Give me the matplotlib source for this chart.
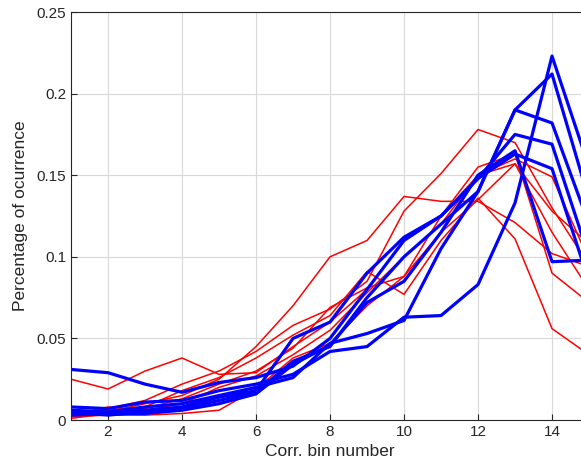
import matplotlib
matplotlib.use("Agg")
import matplotlib.pyplot as plt

plt.rcParams["font.family"] = ["Liberation Sans", "DejaVu Sans"]

bins = list(range(1, 16))

blue_1 = [0.031, 0.029, 0.022, 0.017, 0.023, 0.026, 0.033, 0.050, 0.080, 0.110, 0.125, 0.148, 0.163, 0.154, 0.085]
blue_2 = [0.008, 0.007, 0.011, 0.012, 0.018, 0.022, 0.028, 0.042, 0.045, 0.063, 0.064, 0.083, 0.133, 0.223, 0.155]
blue_3 = [0.006, 0.005, 0.008, 0.010, 0.015, 0.020, 0.026, 0.047, 0.053, 0.061, 0.105, 0.140, 0.190, 0.212, 0.135]
blue_4 = [0.004, 0.004, 0.006, 0.008, 0.014, 0.018, 0.050, 0.060, 0.090, 0.112, 0.125, 0.148, 0.175, 0.169, 0.100]
blue_5 = [0.005, 0.003, 0.005, 0.007, 0.012, 0.017, 0.036, 0.045, 0.075, 0.100, 0.120, 0.140, 0.190, 0.182, 0.120]
blue_6 = [0.003, 0.004, 0.004, 0.006, 0.010, 0.016, 0.034, 0.046, 0.072, 0.085, 0.115, 0.150, 0.165, 0.097, 0.098]

red_1 = [0.025, 0.019, 0.030, 0.038, 0.028, 0.029, 0.045, 0.060, 0.080, 0.110, 0.125, 0.150, 0.160, 0.149, 0.098]
red_2 = [0.002, 0.003, 0.003, 0.004, 0.006, 0.019, 0.038, 0.047, 0.070, 0.088, 0.115, 0.135, 0.157, 0.128, 0.108]
red_3 = [0.003, 0.005, 0.010, 0.015, 0.025, 0.045, 0.070, 0.100, 0.110, 0.137, 0.134, 0.134, 0.121, 0.102, 0.094]
red_4 = [0.002, 0.007, 0.012, 0.022, 0.030, 0.042, 0.058, 0.068, 0.085, 0.128, 0.151, 0.178, 0.170, 0.130, 0.095]
red_5 = [0.004, 0.006, 0.008, 0.018, 0.026, 0.038, 0.052, 0.064, 0.091, 0.077, 0.110, 0.136, 0.111, 0.056, 0.040]
red_6 = [0.001, 0.004, 0.007, 0.013, 0.022, 0.030, 0.044, 0.069, 0.081, 0.088, 0.125, 0.155, 0.163, 0.090, 0.072]
red_7 = [0.003, 0.008, 0.006, 0.010, 0.020, 0.027, 0.040, 0.055, 0.078, 0.100, 0.120, 0.150, 0.157, 0.115, 0.080]

blue_series = [blue_1, blue_2, blue_3, blue_4, blue_5, blue_6]
red_series = [red_1, red_2, red_3, red_4, red_5, red_6, red_7]

fig = plt.figure(figsize=(5.81, 4.73), dpi=100)
ax = fig.add_axes([0.1222, 0.112, 0.8916, 0.8626])

for s in red_series:
    ax.plot(bins, s, color="#ff0000", linewidth=1.1)
for s in blue_series:
    ax.plot(bins, s, color="#0000ff", linewidth=2.3)

ax.set_xlim(1, 15)
ax.set_ylim(0, 0.25)
ax.set_xticks([2, 4, 6, 8, 10, 12, 14])
ax.set_yticks([0, 0.05, 0.1, 0.15, 0.2, 0.25])
ax.set_yticklabels(["0", "0.05", "0.1", "0.15", "0.2", "0.25"])
ax.grid(True, color="#d9d9d9", linewidth=0.8)
ax.set_axisbelow(True)
ax.tick_params(direction="in", colors="#262626", labelsize=11, length=4)
for sp in ax.spines.values():
    sp.set_color("#262626")
ax.set_xlabel("Corr. bin number", fontsize=12.5, color="#262626", labelpad=4)
ax.set_ylabel("Percentage of ocurrence", fontsize=12.5, color="#262626", labelpad=6)

fig.savefig("out.png", dpi=100)
